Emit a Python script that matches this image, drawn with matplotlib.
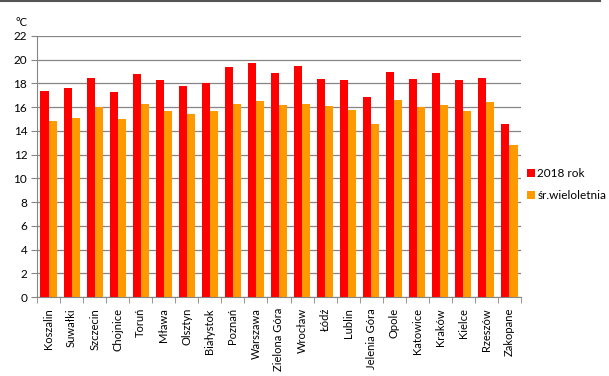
import numpy as np
import matplotlib.pyplot as plt
from matplotlib.lines import Line2D

cities = ['Koszalin', 'Suwałki', 'Szczecin', 'Chojnice', 'Toruń', 'Mława',
          'Olsztyn', 'Białystok', 'Poznań', 'Warszawa', 'Zielona Góra',
          'Wrocław', 'Łódź', 'Lublin', 'Jelenia Góra', 'Opole', 'Katowice',
          'Kraków', 'Kielce', 'Rzeszów', 'Zakopane']
temp_2018 = [17.4, 17.6, 18.5, 17.3, 18.8, 18.3, 17.8, 18.0, 19.4, 19.7, 18.9,
             19.5, 18.4, 18.3, 16.9, 19.0, 18.4, 18.9, 18.3, 18.5, 14.6]
temp_avg = [14.8, 15.1, 16.0, 15.0, 16.3, 15.7, 15.4, 15.7, 16.3, 16.5, 16.2,
            16.3, 16.1, 15.8, 14.6, 16.6, 16.0, 16.2, 15.7, 16.4, 12.8]
series_names = ['2018 rok', 'śr.wieloletnia']

plt.rcParams['font.family'] = ['Lato', 'DejaVu Sans']

fig = plt.figure(figsize=(6.09, 3.76), dpi=100)
ax = fig.add_axes([37 / 609, 79 / 376, 484 / 609, 261 / 376])

x = np.arange(len(cities))
w = 0.35
ax.bar(x - w / 2, temp_2018, w, color='#ff0000', label=series_names[0], zorder=3)
ax.bar(x + w / 2, temp_avg, w, color='#ff9900', label=series_names[1], zorder=3)

ax.set_xlim(-0.5, len(cities) - 0.5)
ax.set_ylim(0, 22)
ax.set_yticks(range(0, 23, 2))
ax.yaxis.grid(True, color='#868686', linewidth=0.9, zorder=0)
ax.tick_params(axis='y', labelsize=8.5, length=4, color='#868686', pad=3)

ax.set_xticks(x)
ax.set_xticklabels(cities, rotation=90, fontsize=8)
ax.tick_params(axis='x', length=0, pad=8)
ax.set_xticks(np.arange(-0.5, len(cities)), minor=True)
ax.tick_params(axis='x', which='minor', length=4, color='#868686')

for s in ['top', 'right']:
    ax.spines[s].set_visible(False)
for s in ['left', 'bottom']:
    ax.spines[s].set_color('#868686')

fig.text(15 / 609, 1 - 22 / 376, '°C', fontsize=8, va='center')

ax.legend(loc='center left', bbox_to_anchor=(0.99, 0.43), frameon=False,
          fontsize=8.5, handlelength=0.7, handleheight=0.7, handletextpad=0.2,
          labelspacing=0.9)

fig.add_artist(Line2D([0, 600 / 609], [0.997, 0.997], color='#555555',
                      linewidth=1.5, transform=fig.transFigure))

fig.savefig('out.png', dpi=100)
